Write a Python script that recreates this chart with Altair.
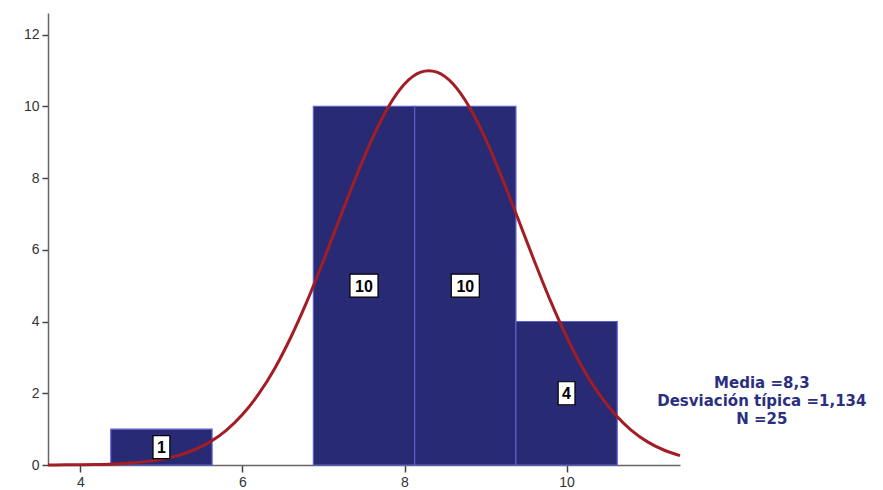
import altair as alt
import pandas as pd

# Histogram bins (bin width 1.25)
bin_start = [4.375, 6.875, 8.125, 9.375]
bin_end = [5.625, 8.125, 9.375, 10.625]
counts = [1, 10, 10, 4]
count_labels = ["1", "10", "10", "4"]

# Normal curve
curve_x = [3.6, 3.8, 4.0, 4.2, 4.4, 4.6, 4.8, 5.0, 5.2, 5.4, 5.6, 5.8, 6.0, 6.2, 6.4, 6.6,
           6.8, 7.0, 7.2, 7.4, 7.6, 7.8, 8.0, 8.2, 8.3, 8.4, 8.6, 8.8, 9.0, 9.2, 9.4, 9.6,
           9.8, 10.0, 10.2, 10.4, 10.6, 10.8, 11.0, 11.2, 11.4]
curve_y = [0.002, 0.004, 0.008, 0.016, 0.030, 0.054, 0.094, 0.159, 0.262, 0.418, 0.645, 0.967,
           1.406, 1.98, 2.70, 3.575, 4.58, 5.70, 6.87, 8.02, 9.09, 9.98, 10.62, 10.95, 10.99,
           10.95, 10.62, 9.98, 9.09, 8.02, 6.87, 5.70, 4.58, 3.575, 2.70, 1.98, 1.406, 0.967,
           0.645, 0.418, 0.262]

stats_text = ["Media =8,3", "Desviación típica =1,134", "N =25"]
stats_x = [12.41, 12.41, 12.41]
stats_y = [2.29, 1.79, 1.29]

bars = pd.DataFrame({"x": bin_start, "x2": bin_end, "count": counts, "label": count_labels})
bars["mid"] = (bars["x"] + bars["x2"]) / 2
bars["half"] = bars["count"] / 2
bars["wide"] = bars["label"].str.len() > 1
curve = pd.DataFrame({"x": curve_x, "y": curve_y})
stats = pd.DataFrame({"t": stats_text, "x": stats_x, "y": stats_y})

xs = alt.Scale(domain=[3.6, 11.4], nice=False, zero=False)
ys = alt.Scale(domain=[0, 12.6], nice=False)

xaxis = alt.Axis(values=[4, 6, 8, 10], title=None, grid=False, domainColor="#666666",
                 tickColor="#444444", tickSize=7, labelFontSize=14, labelColor="#333333",
                 labelFont="Liberation Sans", labelPadding=3, domainWidth=1.5, tickWidth=1.5)
yaxis = alt.Axis(values=[0, 2, 4, 6, 8, 10, 12], title=None, grid=False, domainColor="#666666",
                 tickColor="#444444", tickSize=6, labelFontSize=14, labelColor="#333333",
                 labelFont="Liberation Sans", labelPadding=3, domainWidth=1.5, tickWidth=1.5)

bar_layer = alt.Chart(bars).mark_rect(color="#282A73", stroke="#5A5FD0", strokeWidth=1.2).encode(
    x=alt.X("x:Q", scale=xs, axis=xaxis),
    x2="x2:Q",
    y=alt.Y("count:Q", scale=ys, axis=yaxis),
    y2=alt.datum(0),
)

curve_layer = alt.Chart(curve).mark_line(color="#A31D24", strokeWidth=3, interpolate="monotone").encode(
    x=alt.X("x:Q", scale=xs, axis=xaxis),
    y=alt.Y("y:Q", scale=ys, axis=yaxis),
)

narrow = alt.Chart(bars).transform_filter("!datum.wide").mark_point(
    shape="M-0.6,-0.82L0.6,-0.82L0.6,0.82L-0.6,0.82Z", filled=True, fill="white",
    stroke="black", strokeWidth=1.2, size=784, opacity=1
).encode(x=alt.X("mid:Q", scale=xs, axis=xaxis), y=alt.Y("half:Q", scale=ys, axis=yaxis))

wide = alt.Chart(bars).transform_filter("datum.wide").mark_point(
    shape="M-1,-0.82L1,-0.82L1,0.82L-1,0.82Z", filled=True, fill="white",
    stroke="black", strokeWidth=1.2, size=784, opacity=1
).encode(x=alt.X("mid:Q", scale=xs, axis=xaxis), y=alt.Y("half:Q", scale=ys, axis=yaxis))

labels = alt.Chart(bars).mark_text(fontSize=16, fontWeight="bold", color="black",
                                   font="Liberation Sans", baseline="middle", dy=1).encode(
    x=alt.X("mid:Q", scale=xs, axis=xaxis), y=alt.Y("half:Q", scale=ys, axis=yaxis), text="label:N"
)

stats_layer = alt.Chart(stats).mark_text(fontSize=15, fontWeight="bold", color="#2B2F7E",
                                         font="DejaVu Sans", align="center",
                                         baseline="middle", clip=False).encode(
    x=alt.X("x:Q", scale=xs, axis=xaxis), y=alt.Y("y:Q", scale=ys, axis=yaxis), text="t:N"
)

chart = alt.layer(bar_layer, curve_layer, narrow, wide, labels, stats_layer).properties(
    width=632, height=452,
    autosize=alt.AutoSizeParams(type="none"),
    padding={"left": 40, "top": 5, "right": 195, "bottom": 25},
    background="white",
).configure_view(strokeWidth=0, stroke=None)

chart.save("out.html", embed_options={"renderer": "svg", "actions": False})
